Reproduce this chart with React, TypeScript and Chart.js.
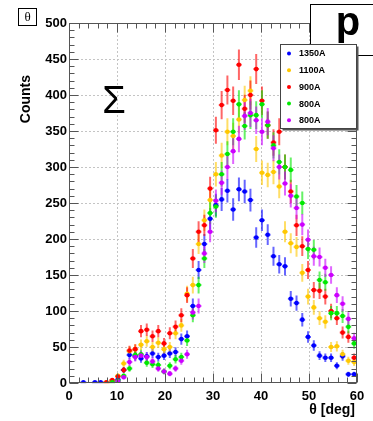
import React, { useEffect, useRef } from "react";
import { Chart, registerables } from "chart.js";

Chart.register(...registerables);

// Bin centres of the θ histogram (1.2° bins from 0° to 60°)
const binCenters = [
  0.6, 1.8, 3.0, 4.2, 5.4, 6.6, 7.8, 9.0, 10.2, 11.4,
  12.6, 13.8, 15.0, 16.2, 17.4, 18.6, 19.8, 21.0, 22.2, 23.4,
  24.6, 25.8, 27.0, 28.2, 29.4, 30.6, 31.8, 33.0, 34.2, 35.4,
  36.6, 37.8, 39.0, 40.2, 41.4, 42.6, 43.8, 45.0, 46.2, 47.4,
  48.6, 49.8, 51.0, 52.2, 53.4, 54.6, 55.8, 57.0, 58.2, 59.4,
];
const halfBinWidth = 0.6;

const seriesLabels = ["1350A", "1100A", "900A", "800A", "800A"];
const seriesColors = ["#0000ff", "#ffc800", "#ff0000", "#00e800", "#cc00ff"];

// Counts per bin (null = empty bin, not drawn)
const counts1350 = [
  null, null, 1, null, 1, 1, null, 2, 5, 18,
  39, 37, 34, 37, 41, 36, 38, 41, 43, 61,
  65, 107, 157, 193, 228, 247, 255, 267, 241, 269,
  266, 254, 202, 226, 206, 176, 165, 162, 117, 111,
  88, 64, 52, 38, 35, 35, 24, 37, 12, 12,
];
const counts1100 = [
  null, null, null, null, null, null, 1, 3, 10, 27,
  44, 47, 53, 58, 50, 56, 47, 50, 69, 80,
  124, 136, 193, 226, 254, 290, 316, 349, 343, 366,
  393, 406, 325, 292, 289, 293, 273, 210, 194, 189,
  153, 120, 105, 90, 85, 50, 51, 40, 31, 29,
];
const counts900 = [
  null, null, null, null, null, null, 1, 4, 9, 18,
  45, 47, 72, 74, 65, 72, 55, 69, 78, 94,
  122, 173, 210, 219, 270, 351, 386, 407, 392, 442,
  381, 400, 436, 392, 358, 334, 349, 300, 266, 219,
  190, 157, 129, 128, 120, 100, 90, 70, 64, 35,
];
const counts800 = [
  null, null, null, null, null, null, null, 1, 3, 10,
  20, 39, 40, 28, 26, 25, 16, 24, 33, 36,
  59, 94, 136, 173, 236, 245, 290, 318, 349, 387,
  357, 372, 372, 387, 358, 330, 307, 300, 296, 259,
  250, 186, 185, 143, 140, 97, 97, 93, 78, 55,
];
const counts800b = [
  null, null, null, null, null, null, null, null, 2, 8,
  29, 36, 38, 36, 30, 20, 16, 13, 20, 31,
  40, 98, 107, 180, 210, 253, 278, 300, 322, 339,
  371, 375, 365, 349, 363, 326, 300, 277, 260, 243,
  220, 199, 176, 175, 160, 150, 122, 110, 89, 62,
];
const allCounts = [counts1350, counts1100, counts900, counts800, counts800b];

const xMin = 0, xMax = 60, xMajorStep = 10, xMinorStep = 2;
const yMin = 0, yMax = 500, yMajorStep = 50, yMinorStep = 10;

const SANS = "'Liberation Sans', Arial, Helvetica, sans-serif";
const SERIF = "'Liberation Serif', 'DejaVu Serif', serif";

const rootStyle = {
  id: "rootStyle",
  beforeDatasetsDraw(chart: any) {
    const { ctx, chartArea: a } = chart;
    const xs = chart.scales.x;
    const ys = chart.scales.y;
    ctx.save();
    // dotted grid at the major ticks
    ctx.strokeStyle = "#c4c4c4";
    ctx.lineWidth = 1;
    ctx.setLineDash([2, 2]);
    ctx.beginPath();
    for (let v = xMin + xMajorStep; v < xMax; v += xMajorStep) {
      const p = Math.round(xs.getPixelForValue(v)) + 0.5;
      ctx.moveTo(p, a.top);
      ctx.lineTo(p, a.bottom);
    }
    for (let v = yMin + yMajorStep; v < yMax; v += yMajorStep) {
      const p = Math.round(ys.getPixelForValue(v)) + 0.5;
      ctx.moveTo(a.left, p);
      ctx.lineTo(a.right, p);
    }
    ctx.stroke();
    ctx.setLineDash([]);

    // error bars: bin width horizontally, Poisson error vertically
    ctx.lineWidth = 2;
    ctx.globalAlpha = 0.6;
    allCounts.forEach((arr, s) => {
      ctx.strokeStyle = seriesColors[s];
      ctx.beginPath();
      arr.forEach((n, i) => {
        if (n == null) return;
        const xc = binCenters[i];
        const px = xs.getPixelForValue(xc);
        const py = ys.getPixelForValue(n);
        const e = Math.sqrt(n);
        ctx.moveTo(xs.getPixelForValue(xc - halfBinWidth), py);
        ctx.lineTo(xs.getPixelForValue(xc + halfBinWidth), py);
        ctx.moveTo(px, ys.getPixelForValue(n - e));
        ctx.lineTo(px, ys.getPixelForValue(n + e));
      });
      ctx.stroke();
    });
    ctx.restore();
  },
  afterDatasetsDraw(chart: any) {
    const { ctx, chartArea: a } = chart;
    const xs = chart.scales.x;
    const ys = chart.scales.y;
    ctx.save();
    ctx.strokeStyle = "#555";
    ctx.lineWidth = 1;
    const L = Math.round(a.left) + 0.5;
    const R = Math.round(a.right) - 0.5;
    const T = Math.round(a.top) + 0.5;
    const B = Math.round(a.bottom) - 0.5;
    ctx.strokeRect(L, T, R - L, B - T);
    ctx.beginPath();
    for (let v = xMin; v <= xMax; v += xMinorStep) {
      const len = v % xMajorStep === 0 ? 9 : 5;
      const p = Math.round(xs.getPixelForValue(v)) + 0.5;
      ctx.moveTo(p, B);
      ctx.lineTo(p, B - len);
      ctx.moveTo(p, T);
      ctx.lineTo(p, T + len);
    }
    for (let v = yMin; v <= yMax; v += yMinorStep) {
      const len = v % yMajorStep === 0 ? 9 : 5;
      const p = Math.round(ys.getPixelForValue(v)) + 0.5;
      ctx.moveTo(L, p);
      ctx.lineTo(L + len, p);
      ctx.moveTo(R, p);
      ctx.lineTo(R - len, p);
    }
    ctx.stroke();
    ctx.restore();
  },
  afterDraw(chart: any) {
    const { ctx, chartArea: a } = chart;
    ctx.save();
    ctx.fillStyle = "#000";

    // axis titles
    ctx.font = `bold 14px ${SANS}`;
    ctx.textAlign = "right";
    ctx.textBaseline = "middle";
    ctx.fillText("θ [deg]", a.right - 2, 410);
    ctx.save();
    ctx.translate(26, 75);
    ctx.rotate(-Math.PI / 2);
    ctx.fillText("Counts", 0, 0);
    ctx.restore();

    // Σ label
    ctx.font = `38px ${SANS}`;
    ctx.textAlign = "center";
    ctx.textBaseline = "alphabetic";
    ctx.fillText("Σ", 114, 113);

    // θ box
    ctx.fillStyle = "#fff";
    ctx.fillRect(18.5, 8.5, 18, 17);
    ctx.strokeStyle = "#000";
    ctx.lineWidth = 1;
    ctx.strokeRect(18.5, 8.5, 18, 17);
    ctx.fillStyle = "#000";
    ctx.font = `13px ${SERIF}`;
    ctx.textBaseline = "middle";
    ctx.fillText("θ", 27.5, 17.5);

    // particle box
    ctx.fillStyle = "#fff";
    ctx.fillRect(310.5, 4.5, 70, 51);
    ctx.strokeRect(310.5, 4.5, 70, 51);
    ctx.fillStyle = "#000";
    ctx.font = `bold 40px ${SANS}`;
    ctx.textAlign = "center";
    ctx.textBaseline = "alphabetic";
    ctx.fillText("p", 348, 35);

    // legend
    const lx = 280.5, ly = 44.5, lw = 76, lh = 84;
    ctx.fillStyle = "#555";
    ctx.fillRect(lx + 2, ly + 2, lw, lh);
    ctx.fillStyle = "#fff";
    ctx.fillRect(lx, ly, lw, lh);
    ctx.strokeStyle = "#444";
    ctx.strokeRect(lx, ly, lw, lh);
    ctx.font = `bold 9px ${SANS}`;
    ctx.textAlign = "left";
    ctx.textBaseline = "middle";
    seriesLabels.forEach((lab, i) => {
      const y = 53.5 + i * 16.7;
      ctx.fillStyle = seriesColors[i];
      ctx.beginPath();
      ctx.arc(289, y, 2, 0, Math.PI * 2);
      ctx.fill();
      ctx.fillStyle = "#000";
      ctx.fillText(lab, 299, y + 0.5);
    });
    ctx.restore();
  },
};

export default function App() {
  const ref = useRef<HTMLCanvasElement>(null);
  useEffect(() => {
    const datasets = allCounts.map((arr, s) => ({
      label: seriesLabels[s],
      data: arr
        .map((n, i) => (n == null ? null : { x: binCenters[i], y: n }))
        .filter((p) => p !== null),
      pointRadius: 2.3,
      pointBackgroundColor: seriesColors[s],
      pointBorderWidth: 0,
      showLine: false,
      order: allCounts.length - s,
    }));
    const tickFont = { family: SANS, weight: "bold" as const, size: 13 };
    const chart = new Chart(ref.current as HTMLCanvasElement, {
      type: "scatter",
      data: { datasets },
      options: {
        responsive: false,
        devicePixelRatio: 1,
        animation: false,
        layout: { padding: { top: 23, right: 16, left: 0, bottom: 0 } },
        plugins: { legend: { display: false }, tooltip: { enabled: false } },
        scales: {
          x: {
            type: "linear",
            min: xMin,
            max: xMax,
            afterFit: (s: any) => { s.height = 38; },
            grid: { display: false, drawTicks: false },
            border: { display: false },
            ticks: { stepSize: xMajorStep, autoSkip: false, maxRotation: 0, padding: 6, color: "#000", font: tickFont },
          },
          y: {
            type: "linear",
            min: yMin,
            max: yMax,
            afterFit: (s: any) => { s.width = 69; },
            grid: { display: false, drawTicks: false },
            border: { display: false },
            ticks: { stepSize: yMajorStep, autoSkip: false, padding: 2, color: "#000", font: tickFont },
          },
        },
      },
      plugins: [rootStyle],
    });
    return () => chart.destroy();
  }, []);
  return (
    <div style={{ position: "fixed", left: 0, top: 0, width: 373, height: 421, background: "#fff" }}>
      <canvas ref={ref} width={373} height={421} style={{ display: "block", width: 373, height: 421 }} />
    </div>
  );
}
